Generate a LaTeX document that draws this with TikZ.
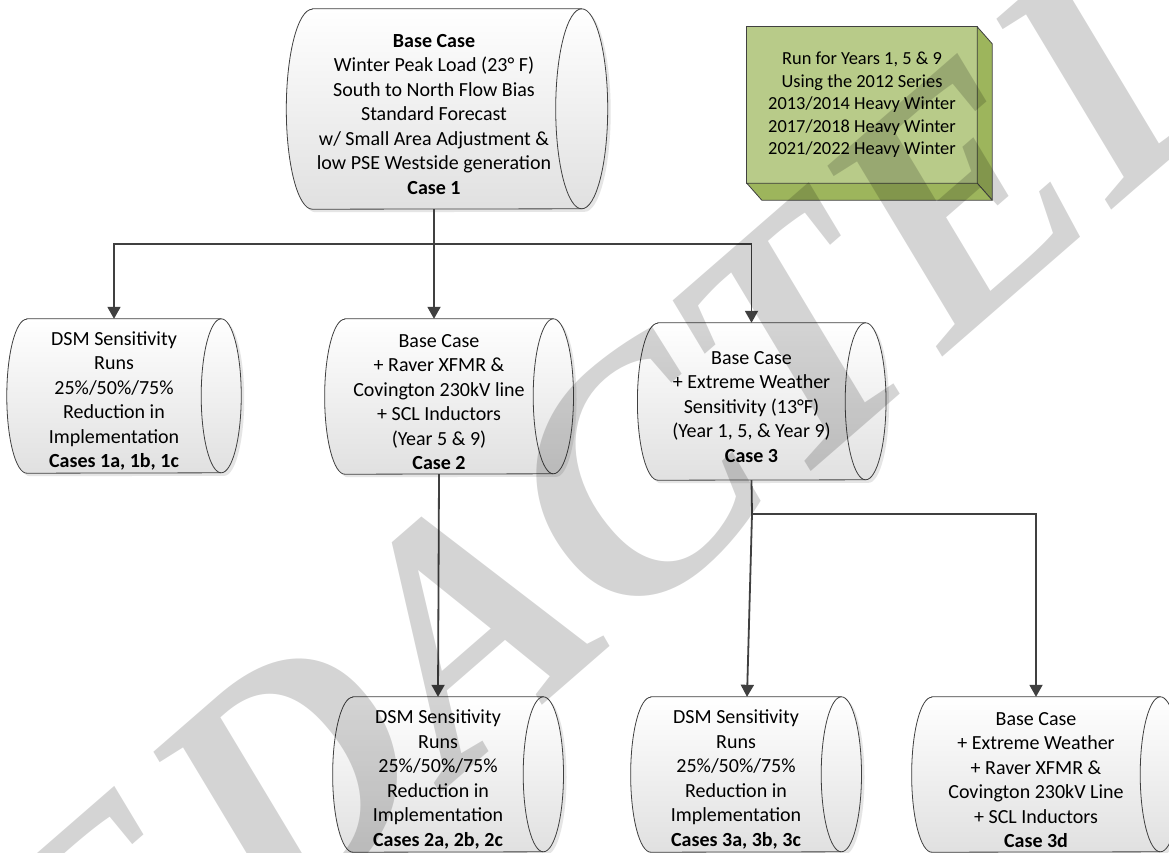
\documentclass[tikz,border=0pt]{standalone}
\usepackage{fontspec}
\setmainfont{Carlito}
\newfontfamily\stampfont{Liberation Serif}
\usetikzlibrary{arrows.meta, backgrounds}

\definecolor{linegray}{RGB}{64,64,64}
\definecolor{notefront}{RGB}{184,203,137}
\definecolor{noteside}{RGB}{157,181,92}
\newcommand{\topgap}{\rule{0pt}{24pt}}

\begin{document}
\begin{tikzpicture}[x=1pt, y=-1pt,
    casebox/.style={inner sep=0pt, align=center, font=\fontsize{20}{24.5}\selectfont},
    flow/.style={draw=linegray, line width=1.8pt, -{Triangle[width=13pt,length=12pt]}},
    link/.style={draw=linegray, line width=1.8pt},
    drum/.style={draw=linegray, line width=0.8pt, top color=white, bottom color=black!12},
    notebox/.style={draw=linegray, line width=0.8pt, line join=round}]
    \useasboundingbox (0,0) rectangle (1169,852);

    % Base case on top
    \node[casebox, minimum width=243, minimum height=200] (base) at (434,109)
        {\topgap\textbf{Base Case}\\Winter Peak Load (23° F)\\South to North Flow Bias\\Standard Forecast\\w/ Small Area Adjustment \&\\low PSE Westside generation\\\textbf{Case 1}};

    % Study years note
    \node[inner sep=0pt, align=center, minimum width=230, minimum height=156,
          font=\fontsize{18.4}{22.5}\selectfont] (note) at (862,105)
        {Run for Years 1, 5 \& 9\\Using the 2012 Series\\2013/2014 Heavy Winter\\2017/2018 Heavy Winter\\2021/2022 Heavy Winter};

    % Second row
    \node[casebox, minimum width=174, minimum height=154] (dsm1) at (114,396)
        {\topgap DSM Sensitivity\\Runs\\25\%/50\%/75\%\\Reduction in\\Implementation\\\textbf{Cases 1a, 1b, 1c}};
    \node[casebox, minimum width=188, minimum height=155] (case2) at (439,396.5)
        {\topgap Base Case\\+ Raver XFMR \&\\Covington 230kV line\\+ SCL Inductors\\(Year 5 \& 9)\\\textbf{Case 2}};
    \node[casebox, minimum width=187, minimum height=157] (case3) at (751.5,401.5)
        {\topgap Base Case\\+ Extreme Weather\\Sensitivity (13°F)\\(Year 1, 5, \& Year 9)\\\textbf{Case 3}};

    % Third row
    \node[casebox, minimum width=170, minimum height=155] (dsm2) at (438,774.5)
        {\topgap DSM Sensitivity\\Runs\\25\%/50\%/75\%\\Reduction in\\Implementation\\\textbf{Cases 2a, 2b, 2c}};
    \node[casebox, minimum width=170, minimum height=155] (dsm3) at (736,774.5)
        {\topgap DSM Sensitivity\\Runs\\25\%/50\%/75\%\\Reduction in\\Implementation\\\textbf{Cases 3a, 3b, 3c}};
    \node[casebox, minimum width=208, minimum height=155] (case3d) at (1036,774.5)
        {\topgap Base Case\\+ Extreme Weather\\+ Raver XFMR \&\\Covington 230kV Line\\+ SCL Inductors\\\textbf{Case 3d}};

    % Drum outlines behind the texts
    \begin{scope}[on background layer]
        \fill[white] (0,0) rectangle (1169,852);
        \foreach \b/\ry in {base/100, dsm1/77, case2/77.5, case3/78.5, dsm2/77.5, dsm3/77.5, case3d/77.5} {
            \pgfmathsetmacro\rx{0.26*\ry}
            \fill[black!10, transform canvas={shift={(3pt,-3pt)}}] (\b.north west) -- ([xshift=\rx pt]\b.north east)
                arc[start angle=90, end angle=-90, x radius=\rx pt, y radius=\ry pt] -- (\b.south west)
                arc[start angle=270, end angle=90, x radius=\rx pt, y radius=\ry pt] -- cycle;
            \path[drum] (\b.north west) -- ([xshift=\rx pt]\b.north east)
                arc[start angle=90, end angle=-90, x radius=\rx pt, y radius=\ry pt] -- (\b.south west)
                arc[start angle=270, end angle=90, x radius=\rx pt, y radius=\ry pt] -- cycle;
            \draw[draw=linegray, line width=0.8pt] ([xshift=\rx pt]\b.north east)
                arc[start angle=90, end angle=270, x radius=\rx pt, y radius=\ry pt];
        }
        % note box faces
        \filldraw[notebox, fill=notefront] (note.north west) rectangle (note.south east);
        \filldraw[notebox, fill=noteside] (note.north east) -- ++(15,17) -- ([shift={(15,17)}]note.south east) -- (note.south east) -- cycle;
        \filldraw[notebox, fill=noteside] (note.south west) -- (note.south east) -- ++(15,17) -- ([shift={(15,17)}]note.south west) -- cycle;
    \end{scope}

    % Connectors
    \coordinate (split1) at (434,244);
    \coordinate (split2) at (752,514);
    \draw[link] (base.south) -- (split1);
    \draw[flow] (split1) -| (dsm1.north);
    \draw[flow] (split1) -- (split1 |- case2.north);
    \draw[flow] (split1) -| (case3.north);
    \draw[flow] (case2.south) -- (dsm2.north);
    \draw[link] (case3.south) -- (split2);
    \draw[flow] (split2) -- ([xshift=11]dsm3.north);
    \draw[flow] (split2) -| (case3d.north);

    % Watermark
    \node[text=black, text opacity=0.17, rotate=41,
          font=\stampfont\bfseries\itshape\fontsize{335}{335}\selectfont] (stamp) at (543,560) {REDACTED};
\end{tikzpicture}
\end{document}
